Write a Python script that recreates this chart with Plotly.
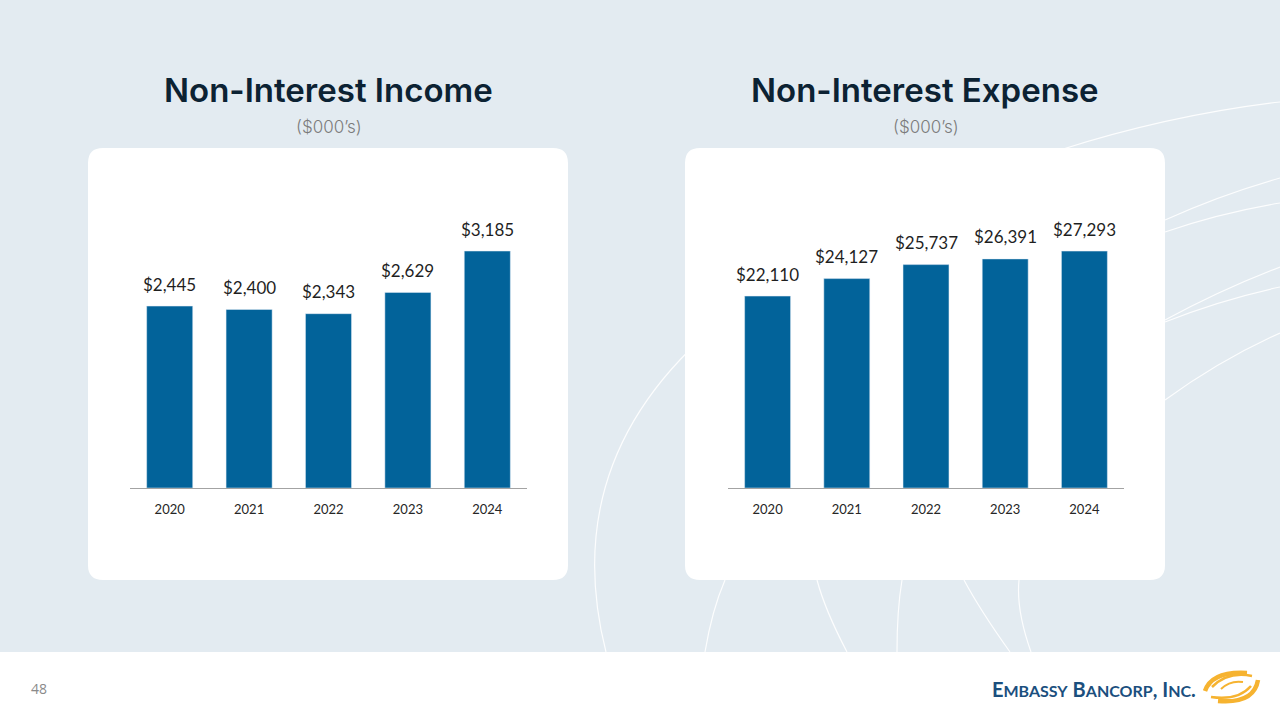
import plotly.graph_objects as go

# ---------------- data ----------------
years = ["2020", "2021", "2022", "2023", "2024"]
income_values = [2445, 2400, 2343, 2629, 3185]
expense_values = [22110, 24127, 25737, 26391, 27293]
income_title = "Non-Interest Income"
expense_title = "Non-Interest Expense"
unit_label = "($000’s)"
page_number = "48"

# ---------------- style ----------------
W, H = 1280, 720
BG = "#e3ebf1"
BAR = "#02639a"
TITLE_C = "#0c2233"


def px(x):
    return x / W


def py(y):
    return 1 - y / H


def rrect(x0, y0, x1, y1, r):
    X0, X1 = px(x0), px(x1)
    Y0, Y1 = py(y0), py(y1)
    rx, ry = r / W, r / H
    return (f"M {X0+rx},{Y0} L {X1-rx},{Y0} Q {X1},{Y0} {X1},{Y0-ry} "
            f"L {X1},{Y1+ry} Q {X1},{Y1} {X1-rx},{Y1} L {X0+rx},{Y1} "
            f"Q {X0},{Y1} {X0},{Y1+ry} L {X0},{Y0-ry} Q {X0},{Y0} {X0+rx},{Y0} Z")


def qpath(p0, c, p1):
    return f"M {px(p0[0])},{py(p0[1])} Q {px(c[0])},{py(c[1])} {px(p1[0])},{py(p1[1])}"


fig = go.Figure()

fig.add_trace(go.Bar(x=years, y=income_values, marker_color=BAR, xaxis="x", yaxis="y",
                     hoverinfo="skip", showlegend=False))
fig.add_trace(go.Bar(x=years, y=expense_values, marker_color=BAR, xaxis="x2", yaxis="y2",
                     hoverinfo="skip", showlegend=False))

shapes = []
# decorative background curves
curves = [
    ((606, 652), (560, 470), (700, 340)),
    ((705, 652), (712, 610), (725, 580)),
    ((847, 652), (825, 610), (817, 580)),
    ((897, 652), (897, 610), (902, 580)),
    ((1010, 652), (980, 610), (964, 580)),
    ((1031, 652), (1016, 610), (1019, 580)),
    ((1060, 150), (1170, 115), (1280, 102)),
    ((1165, 220), (1220, 195), (1280, 178)),
    ((1165, 232), (1220, 213), (1280, 203)),
    ((1165, 320), (1220, 290), (1280, 267)),
    ((1165, 322), (1220, 300), (1280, 287)),
    ((1165, 400), (1220, 360), (1280, 333)),
]
for p0, c, p1 in curves:
    shapes.append(dict(type="path", xref="paper", yref="paper", path=qpath(p0, c, p1),
                       line=dict(color="rgba(255,255,255,0.9)", width=1.2), layer="below"))
# white panels
shapes.append(dict(type="path", xref="paper", yref="paper", path=rrect(88, 148, 568, 580, 15),
                   fillcolor="white", line=dict(width=0), layer="below"))
shapes.append(dict(type="path", xref="paper", yref="paper", path=rrect(685, 148, 1165, 580, 15),
                   fillcolor="white", line=dict(width=0), layer="below"))
# footer strip
shapes.append(dict(type="rect", xref="paper", yref="paper", x0=0, x1=1, y0=0, y1=py(652),
                   fillcolor="white", line=dict(width=0), layer="below"))
# orange swirl logo
OR = "#f6b330"
swirl = [
    ((1205, 691), (1212, 671), (1247, 673), 4.5),
    ((1212, 687), (1228, 671), (1252, 676), 2.5),
    ((1258, 680), (1254, 704), (1218, 701), 4.5),
    ((1251, 686), (1238, 701), (1211, 697), 2.5),
    ((1221, 689), (1230, 680), (1243, 682), 2),
]
for p0, c, p1, w in swirl:
    shapes.append(dict(type="path", xref="paper", yref="paper", path=qpath(p0, c, p1),
                       line=dict(color=OR, width=w), layer="above"))

annotations = []
for t, cx in [(income_title, 328), (expense_title, 925)]:
    annotations.append(dict(text=t, x=px(cx), y=py(90), xref="paper", yref="paper",
                            showarrow=False, xanchor="center", yanchor="middle",
                            font=dict(family="Inter", size=33, color=TITLE_C, weight=600)))
    annotations.append(dict(text=unit_label, x=px(cx + 1), y=py(127), xref="paper", yref="paper",
                            showarrow=False, xanchor="center", yanchor="middle",
                            font=dict(family="Inter", size=17, color="#7b7b7b", weight=300)))

for vals, xa, ya in [(income_values, "x", "y"), (expense_values, "x2", "y2")]:
    for i, v in enumerate(vals):
        annotations.append(dict(text=f"${v:,}", x=i, y=v, xref=xa, yref=ya, showarrow=False,
                                xanchor="center", yanchor="middle", yshift=22,
                                font=dict(family="Lato", size=17, color="#1f1f1f")))

annotations.append(dict(text=page_number, x=px(39), y=py(688), xref="paper", yref="paper",
                        showarrow=False, xanchor="center", yanchor="middle",
                        font=dict(family="Open Sans", size=14, color="#8a8a8a")))
logo_txt = ("E<span style='font-size:16px'>MBASSY</span> B<span style='font-size:16px'>ANCORP</span>, "
            "I<span style='font-size:16px'>NC</span>.")
annotations.append(dict(text=logo_txt, x=px(1198), y=py(689), xref="paper", yref="paper",
                        showarrow=False, xanchor="right", yanchor="middle",
                        font=dict(family="Lato", size=20, color="#1b4f7e", weight=700)))

n = len(years)
axis_common = dict(type="category", range=[-0.5, n - 0.5], showgrid=False, zeroline=False,
                   showline=True, linecolor="#a3a3a3", linewidth=1, automargin=False,
                   ticks="", tickfont=dict(family="Lato", size=13, color="#262626"),
                   ticklabelstandoff=9, fixedrange=True)
yaxis_common = dict(showgrid=False, zeroline=False, showline=False, showticklabels=False,
                    ticks="", fixedrange=True, automargin=False)

fig.update_layout(
    width=W, height=H, margin=dict(l=0, r=0, t=0, b=0, autoexpand=False),
    paper_bgcolor=BG, plot_bgcolor="rgba(0,0,0,0)",
    bargap=0.42,
    xaxis=dict(domain=[px(130), px(527)], anchor="y", **axis_common),
    yaxis=dict(domain=[py(488), py(200)], range=[0, 288 / 0.0744], anchor="x", **yaxis_common),
    xaxis2=dict(domain=[px(728), px(1124)], anchor="y2", **axis_common),
    yaxis2=dict(domain=[py(488), py(200)], range=[0, 288 / 0.00868], anchor="x2", **yaxis_common),
    shapes=shapes, annotations=annotations,
)

fig.write_html("out.html")
